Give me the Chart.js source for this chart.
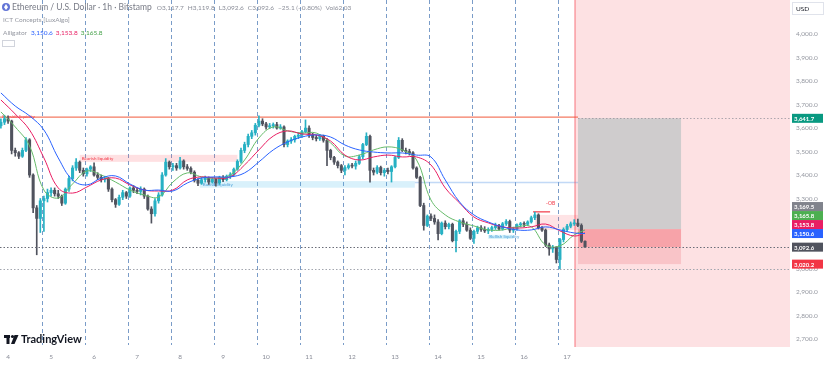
<!DOCTYPE html>
<html>
<head>
<meta charset="utf-8">
<script src="https://cdn.jsdelivr.net/npm/chart.js@4.4.1/dist/chart.umd.min.js"></script>
<style>
  html, body { margin: 0; padding: 0; background: #fff; overflow: hidden; }
</style>
</head>
<body>
<canvas id="chart" width="825" height="367"></canvas>
<script>
// ETH/USD 1h (Bitstamp) - candles resampled to 2h, hours counted from Jun 4 00:00
const startHour = -4;
const stepHours = 2;

const opens = [
  3610,3625,3640,3630,3505,3495,3480,3505,3550,3400,3260,3215,3290,3300,3325,3335,
  3320,3310,3280,3340,3385,3430,3455,3420,3405,3425,3435,3400,3390,3380,3385,3340,
  3295,3275,3305,3325,3310,3345,3335,3330,3340,3310,3255,3235,3290,3315,3400,3455,
  3435,3440,3430,3460,3435,3428,3412,3378,3365,3380,3388,3370,3382,3366,3390,3380,
  3395,3402,3425,3458,3505,3530,3565,3580,3612,3630,3618,3605,3610,3615,3600,3605,
  3530,3545,3550,3565,3570,3585,3600,3570,3560,3555,3565,3548,3505,3475,3455,3440,
  3420,3432,3440,3438,3450,3478,3530,3565,3420,3412,3432,3410,3420,3415,3435,3475,
  3548,3505,3500,3495,3430,3390,3270,3185,3225,3215,3200,3150,3195,3180,3190,3120,
  3160,3205,3190,3165,3130,3160,3175,3168,3162,3168,3176,3184,3170,3192,3202,3165,
  3170,3188,3192,3190,3200,3218,3230,3175,3165,3102,3085,3092,3040,3125,3168,3182,
  3192,3195,3185,3117.7
];
const highs = [
  3640,3655,3652,3634,3515,3500,3515,3560,3555,3405,3270,3300,3310,3340,3345,3345,
  3335,3315,3345,3395,3440,3470,3460,3430,3430,3440,3452,3410,3400,3395,3390,3345,
  3300,3315,3335,3330,3350,3355,3345,3350,3345,3315,3265,3300,3325,3410,3470,3460,
  3450,3450,3475,3465,3445,3435,3418,3385,3390,3395,3392,3390,3386,3395,3398,3400,
  3410,3430,3465,3515,3540,3575,3590,3620,3652,3640,3625,3620,3622,3625,3615,3610,
  3550,3560,3570,3580,3590,3635,3610,3578,3570,3572,3570,3555,3510,3480,3460,3445,
  3440,3448,3450,3460,3485,3535,3580,3570,3430,3440,3438,3428,3430,3440,3480,3560,
  3555,3515,3510,3500,3435,3395,3280,3230,3235,3230,3210,3200,3205,3195,3195,3165,
  3210,3215,3200,3175,3165,3182,3185,3180,3175,3182,3195,3190,3198,3210,3208,3178,
  3192,3198,3200,3205,3225,3242,3235,3180,3170,3110,3100,3095,3130,3175,3190,3200,
  3210,3212,3192,3119.8
];
const lows = [
  3600,3615,3620,3490,3480,3470,3475,3500,3390,3240,3060,3155,3160,3285,3310,3310,
  3300,3270,3275,3330,3375,3420,3410,3395,3395,3415,3395,3380,3370,3370,3330,3285,
  3262,3270,3295,3300,3305,3325,3320,3315,3300,3250,3195,3225,3280,3310,3395,3425,
  3420,3420,3425,3425,3420,3405,3370,3355,3360,3370,3360,3365,3352,3360,3372,3375,
  3385,3395,3420,3450,3495,3520,3555,3570,3605,3610,3595,3598,3600,3595,3595,3520,
  3520,3535,3540,3555,3560,3580,3560,3550,3545,3548,3540,3440,3465,3445,3430,3410,
  3400,3425,3430,3425,3445,3470,3525,3370,3400,3405,3400,3395,3405,3370,3430,3470,
  3500,3490,3485,3425,3385,3265,3165,3180,3205,3190,3123,3145,3170,3170,3115,3072,
  3150,3180,3160,3125,3108,3150,3160,3155,3150,3160,3168,3165,3165,3185,3155,3155,
  3165,3178,3180,3185,3195,3210,3170,3160,3095,3058,3070,3025,3000,3115,3160,3175,
  3185,3180,3112,3092.6
];
const closes = [
  3625,3640,3630,3505,3495,3480,3505,3550,3400,3260,3215,3290,3300,3325,3335,3320,
  3310,3280,3340,3385,3430,3455,3420,3405,3425,3435,3400,3390,3380,3385,3340,3295,
  3275,3305,3325,3310,3345,3335,3330,3340,3310,3255,3235,3290,3315,3400,3455,3435,
  3440,3430,3460,3435,3428,3412,3378,3365,3380,3388,3370,3382,3366,3390,3380,3395,
  3402,3425,3458,3505,3530,3565,3580,3612,3630,3618,3605,3610,3615,3600,3605,3530,
  3545,3550,3565,3570,3585,3600,3570,3560,3555,3565,3548,3505,3475,3455,3440,3420,
  3432,3440,3438,3450,3478,3530,3565,3420,3412,3432,3410,3420,3415,3435,3475,3548,
  3505,3500,3495,3430,3390,3270,3185,3225,3215,3200,3150,3195,3180,3190,3120,3160,
  3205,3190,3165,3130,3160,3175,3168,3162,3168,3176,3184,3170,3192,3202,3165,3170,
  3188,3192,3190,3200,3218,3230,3175,3165,3102,3085,3092,3040,3125,3168,3182,3192,
  3195,3185,3117.7,3092.6
];
const candleHours = opens.map((_, i) => startHour + i * stepHours);

// Alligator (jaw / teeth / lips)
const alligatorHours = [
  -4,4,12,20,28,36,44,52,60,68,76,84,92,100,108,116,124,132,140,148,156,
  164,172,180,188,196,204,212,220,228,236,244,252,260,268,276,284,292,300,308,316,322
];
const jaw = [
  3750,3694,3652,3592,3473,3379,3358,3387,3396,3362,3336,3336,3332,3366,3387,3392,3392,3409,3456,3507,3541,
  3562,3571,3562,3528,3507,3498,3494,3494,3485,3477,3379,3285,3230,3200,3179,3166,3166,3179,3166,3153,3150.6
];
const teeth = [
  3720,3660,3592,3473,3345,3323,3349,3379,3387,3358,3336,3332,3336,3379,3392,3387,3392,3443,3507,3566,3588,
  3575,3571,3545,3485,3464,3477,3485,3477,3477,3443,3345,3281,3221,3196,3179,3174,3179,3191,3162,3140,3153.8
];
const lips = [
  3669,3605,3524,3336,3302,3362,3417,3400,3370,3336,3315,3306,3370,3409,3392,3387,3400,3464,3558,3605,3588,
  3579,3579,3537,3481,3485,3507,3520,3507,3464,3294,3230,3200,3183,3166,3166,3179,3179,3102,3098,3145,3165.8
];

const dayHours  = [0,24,48,72,96,120,144,168,192,216,240,264,288,312];
const dayLabels = ['4','5','6','7','8','9','10','11','12','13','14','15','16','17'];
const priceTicks = [2700,2800,2900,3000,3100,3200,3300,3400,3500,3600,3700,3800,3900,4000];
const sessionHours = [19,43,67,91,115,139,163,187,211,235,259,283,307];

// drawings / levels
const futureStart = 316.4;
const buysideLevel = 3647;
const bearLiq = [40, 128, 3456, 3486];      // hour from, hour to, price low, price high
const bullLiq = [107, 227, 3346, 3374];
const bullLiqLine = [227, 328, 3368];
const bullLiq2 = [268, 282, 3128, 3145];
const obLine = [293, 302.5, 3243];
const obBox = [294, 323.7, 3166, 3230];
const positionHours = [318.1, 375.6];
const entryPrice = 3169.5, targetPrice = 3641.7, lastPrice = 3092.6, stopPrice = 3020.2;
const roundLevel = 3000;

const axisLabelValues = [3641.7, 3169.5, 3165.8, 3153.8, 3150.6, 3092.6, 3020.2];
const axisLabelColors = ['#089981', '#80838c', '#4caf50', '#e91e63', '#2962ff', '#50535e', '#f23645'];

const FONT = 'Lato, "Noto Sans", sans-serif';
const UP = '#27b1c4', DOWN = '#50535e';
const fmt = v => v.toLocaleString('en-US', { minimumFractionDigits: 1, maximumFractionDigits: 1 });

const candleColors = closes.map((c, i) => c >= opens[i] ? UP : DOWN);

const overlay = {
  id: 'overlay',
  beforeDatasetsDraw(chart) {
    const { ctx, chartArea: a, scales: { x, y } } = chart;
    const X = v => x.getPixelForValue(v), Y = v => y.getPixelForValue(v);
    const box = (h0, h1, p0, p1, fill) => {
      ctx.fillStyle = fill;
      ctx.fillRect(X(h0), Y(p1), X(h1) - X(h0), Y(p0) - Y(p1));
    };
    ctx.save();
    ctx.beginPath(); ctx.rect(a.left, a.top, a.right - a.left, a.bottom - a.top); ctx.clip();

    // future zone
    ctx.fillStyle = 'rgba(242,54,69,0.15)';
    ctx.fillRect(X(futureStart), a.top, a.right - X(futureStart), a.bottom - a.top);

    // session separators
    ctx.strokeStyle = '#7a9cc8';
    ctx.lineWidth = 1;
    ctx.setLineDash([4, 3]);
    sessionHours.forEach(h => {
      const px = Math.round(X(h)) + 0.5;
      ctx.beginPath(); ctx.moveTo(px, a.top); ctx.lineTo(px, a.bottom - 2); ctx.stroke();
    });
    ctx.setLineDash([]);

    // liquidity zones
    box(bearLiq[0], bearLiq[1], bearLiq[2], bearLiq[3], 'rgba(247,82,95,0.18)');
    box(bullLiq[0], bullLiq[1], bullLiq[2], bullLiq[3], 'rgba(80,190,235,0.22)');
    box(bullLiq2[0], bullLiq2[1], bullLiq2[2], bullLiq2[3], 'rgba(80,200,235,0.25)');
    ctx.strokeStyle = 'rgba(120,170,235,0.45)';
    ctx.lineWidth = 1.5;
    ctx.beginPath(); ctx.moveTo(X(bullLiqLine[0]), Y(bullLiqLine[2])); ctx.lineTo(X(bullLiqLine[1]), Y(bullLiqLine[2])); ctx.stroke();

    // order block
    box(obBox[0], obBox[1], obBox[2], obBox[3], 'rgba(247,82,95,0.16)');
    ctx.strokeStyle = '#f23645';
    ctx.lineWidth = 1.2;
    ctx.beginPath(); ctx.moveTo(X(obLine[0]), Y(obLine[2])); ctx.lineTo(X(obLine[1]), Y(obLine[2])); ctx.stroke();

    // position tool
    box(positionHours[0], positionHours[1], entryPrice, targetPrice, '#cfcccd');
    box(positionHours[0], positionHours[1], lastPrice, entryPrice, '#f7a3a9');
    box(positionHours[0], positionHours[1], stopPrice, lastPrice, '#f9c4c8');

    // buyside liquidity line
    ctx.strokeStyle = '#f47a62';
    ctx.lineWidth = 1.2;
    ctx.beginPath(); ctx.moveTo(a.left, Y(buysideLevel)); ctx.lineTo(X(positionHours[0]), Y(buysideLevel)); ctx.stroke();

    // current-time marker
    ctx.strokeStyle = 'rgba(242,54,69,0.42)';
    ctx.lineWidth = 1.6;
    ctx.beginPath(); ctx.moveTo(X(futureStart), a.top); ctx.lineTo(X(futureStart), a.bottom); ctx.stroke();

    // small texts
    ctx.font = `4.5px ${FONT}`;
    ctx.textBaseline = 'middle';
    ctx.fillStyle = '#f23645';
    ctx.fillText('Buyside liquidity', X(-3.2), Y(buysideLevel) - 1);
    ctx.fillText('Bearish liquidity', X(bearLiq[0]) + 2, (Y(bearLiq[2]) + Y(bearLiq[3])) / 2);
    ctx.fillStyle = '#4a9fd8';
    ctx.fillText('Bullish liquidity', X(bullLiq[0]) + 3, (Y(bullLiq[2]) + Y(bullLiq[3])) / 2);
    ctx.fillText('Bullish liquidity', X(bullLiq2[0]) + 1, (Y(bullLiq2[2]) + Y(bullLiq2[3])) / 2);
    ctx.fillStyle = '#f23645';
    ctx.font = `5px ${FONT}`;
    ctx.fillText('-OB', X(obLine[1]) - 4, Y(obLine[2]) - 8);
    ctx.restore();
  },
  afterDatasetsDraw(chart) {
    const { ctx, chartArea: a, scales: { x, y } } = chart;
    const Y = v => y.getPixelForValue(v);
    ctx.save();
    ctx.lineWidth = 1;
    ctx.setLineDash([1.5, 2]);
    ctx.strokeStyle = '#6a6d78';
    let py = Math.round(Y(lastPrice)) + 0.5;
    ctx.beginPath(); ctx.moveTo(a.left, py); ctx.lineTo(a.right, py); ctx.stroke();
    ctx.strokeStyle = '#a3a6af';
    py = Math.round(Y(roundLevel)) + 0.5;
    ctx.beginPath(); ctx.moveTo(a.left, py); ctx.lineTo(a.right, py); ctx.stroke();
    ctx.strokeStyle = 'rgba(140,140,150,0.7)';
    py = Math.round(Y(targetPrice)) + 0.5;
    ctx.beginPath(); ctx.moveTo(x.getPixelForValue(positionHours[0]), py); ctx.lineTo(a.right, py); ctx.stroke();
    ctx.restore();
  },
  afterDraw(chart) {
    const { ctx, chartArea: a, scales: { y } } = chart;
    ctx.save();

    // price labels on the axis, stacked upward when they collide
    const order = axisLabelValues.map((v, i) => i).sort((i, j) => axisLabelValues[i] - axisLabelValues[j]);
    let prev = Infinity;
    ctx.font = `bold 6px ${FONT}`;
    ctx.textBaseline = 'middle';
    order.forEach(i => {
      let py = Math.min(y.getPixelForValue(axisLabelValues[i]), prev - 9);
      prev = py;
      ctx.fillStyle = axisLabelColors[i];
      ctx.fillRect(a.right + 2, py - 4.5, 31, 9);
      ctx.fillStyle = '#fff';
      ctx.fillText(fmt(axisLabelValues[i]), a.right + 4, py + 0.5);
    });

    // USD box
    ctx.strokeStyle = '#e0e3eb';
    ctx.lineWidth = 1;
    ctx.strokeRect(a.right + 2.5, 2.5, 31, 12);
    ctx.fillStyle = '#131722';
    ctx.font = `6.5px ${FONT}`;
    ctx.fillText('USD', a.right + 6, 9);

    // legend, top left
    ctx.fillStyle = '#6274d6';
    ctx.beginPath(); ctx.arc(6, 7, 4, 0, Math.PI * 2); ctx.fill();
    ctx.fillStyle = '#fff';
    ctx.beginPath(); ctx.moveTo(6, 4); ctx.lineTo(8, 7.2); ctx.lineTo(6, 10); ctx.lineTo(4, 7.2); ctx.closePath(); ctx.fill();

    let tx = 12;
    let ly = 7.5;
    const put = (t, c, f, gap) => {
      ctx.font = f; ctx.fillStyle = c;
      ctx.fillText(t, tx, ly);
      tx += ctx.measureText(t).width + (gap || 0);
    };
    put('Ethereum / U.S. Dollar · 1h · Bitstamp', '#787b86', `8.5px ${FONT}`, 5);
    const ohlc = [['O', '3,117.7'], ['H', '3,119.8'], ['L', '3,092.6'], ['C', '3,092.6']];
    ohlc.forEach(([k, v]) => { put(k, '#8a8d98', `6.5px ${FONT}`); put(v, '#8a8d98', `6.5px ${FONT}`, 4); });
    put('\u221225.1 (\u22120.80%)', '#8a8d98', `6.5px ${FONT}`, 4);
    put('Vol', '#8a8d98', `6.5px ${FONT}`);
    put('62.03', '#8a8d98', `6.5px ${FONT}`);

    tx = 3; ly = 20;
    put('ICT Concepts [LuxAlgo]', '#9598a1', `6.5px ${FONT}`);
    tx = 3; ly = 33;
    put('Alligator', '#9598a1', `6.5px ${FONT}`, 4);
    put('3,150.6', '#2962ff', `6.5px ${FONT}`, 3);
    put('3,153.8', '#e91e63', `6.5px ${FONT}`, 3);
    put('3,165.8', '#43a047', `6.5px ${FONT}`);
    ctx.strokeStyle = '#d1d4dc';
    ctx.strokeRect(2.5, 40.5, 12, 6);

    // TradingView watermark
    ctx.fillStyle = '#131722';
    ctx.fillRect(4, 335, 6, 3);
    ctx.fillRect(6.5, 335, 3, 9);
    ctx.beginPath(); ctx.arc(12.5, 336.5, 1.6, 0, Math.PI * 2); ctx.fill();
    ctx.beginPath(); ctx.moveTo(14.5, 335); ctx.lineTo(18.5, 335); ctx.lineTo(14.5, 344); ctx.lineTo(11, 344); ctx.closePath(); ctx.fill();
    ctx.font = `bold 11px ${FONT}`;
    ctx.fillText('TradingView', 21, 339.5);
    ctx.restore();
  }
};

new Chart(document.getElementById('chart'), {
  type: 'bar',
  data: {
    datasets: [
      {
        type: 'line', label: 'Jaw', order: 1,
        data: alligatorHours.map((h, i) => ({ x: h, y: jaw[i] })),
        borderColor: '#2962ff', borderWidth: 1, pointRadius: 0, tension: 0.4
      },
      {
        type: 'line', label: 'Teeth', order: 1,
        data: alligatorHours.map((h, i) => ({ x: h, y: teeth[i] })),
        borderColor: '#e91e63', borderWidth: 1, pointRadius: 0, tension: 0.4
      },
      {
        type: 'line', label: 'Lips', order: 1,
        data: alligatorHours.map((h, i) => ({ x: h, y: lips[i] })),
        borderColor: '#66bb6a', borderWidth: 1, pointRadius: 0, tension: 0.4
      },
      {
        label: 'Bodies', order: 2, grouped: false,
        data: candleHours.map((h, i) => ({ x: h, y: [opens[i], closes[i]] })),
        backgroundColor: candleColors, barThickness: 2.4, minBarLength: 1, borderWidth: 0
      },
      {
        label: 'Wicks', order: 3, grouped: false,
        data: candleHours.map((h, i) => ({ x: h, y: [lows[i], highs[i]] })),
        backgroundColor: candleColors, barThickness: 1, borderWidth: 0
      }
    ]
  },
  options: {
    responsive: false,
    devicePixelRatio: 1,
    animation: false,
    layout: { padding: 0 },
    plugins: { legend: { display: false }, tooltip: { enabled: false } },
    scales: {
      x: {
        type: 'linear', min: -4.5, max: 436.4, offset: false,
        grid: { display: false, drawTicks: false, offset: false }, border: { display: false },
        afterBuildTicks: s => { s.ticks = dayHours.map(v => ({ value: v })); },
        afterFit: s => { s.height = 20; s.paddingLeft = 0; s.paddingRight = 0; },
        ticks: {
          autoSkip: false, maxRotation: 0, padding: 6,
          color: '#8a8d98', font: { family: FONT, size: 6.5 },
          callback: v => dayLabels[dayHours.indexOf(v)]
        }
      },
      y: {
        type: 'linear', position: 'right', min: 2667, max: 4146,
        grid: { display: false, drawTicks: false }, border: { display: false },
        afterBuildTicks: s => { s.ticks = priceTicks.map(v => ({ value: v })); },
        afterFit: s => { s.width = 35; s.paddingTop = 0; s.paddingBottom = 0; },
        ticks: {
          padding: 6, color: '#9598a1', font: { family: FONT, size: 6.5 },
          callback: v => fmt(v)
        }
      }
    }
  },
  plugins: [overlay]
});
</script>
</body>
</html>
